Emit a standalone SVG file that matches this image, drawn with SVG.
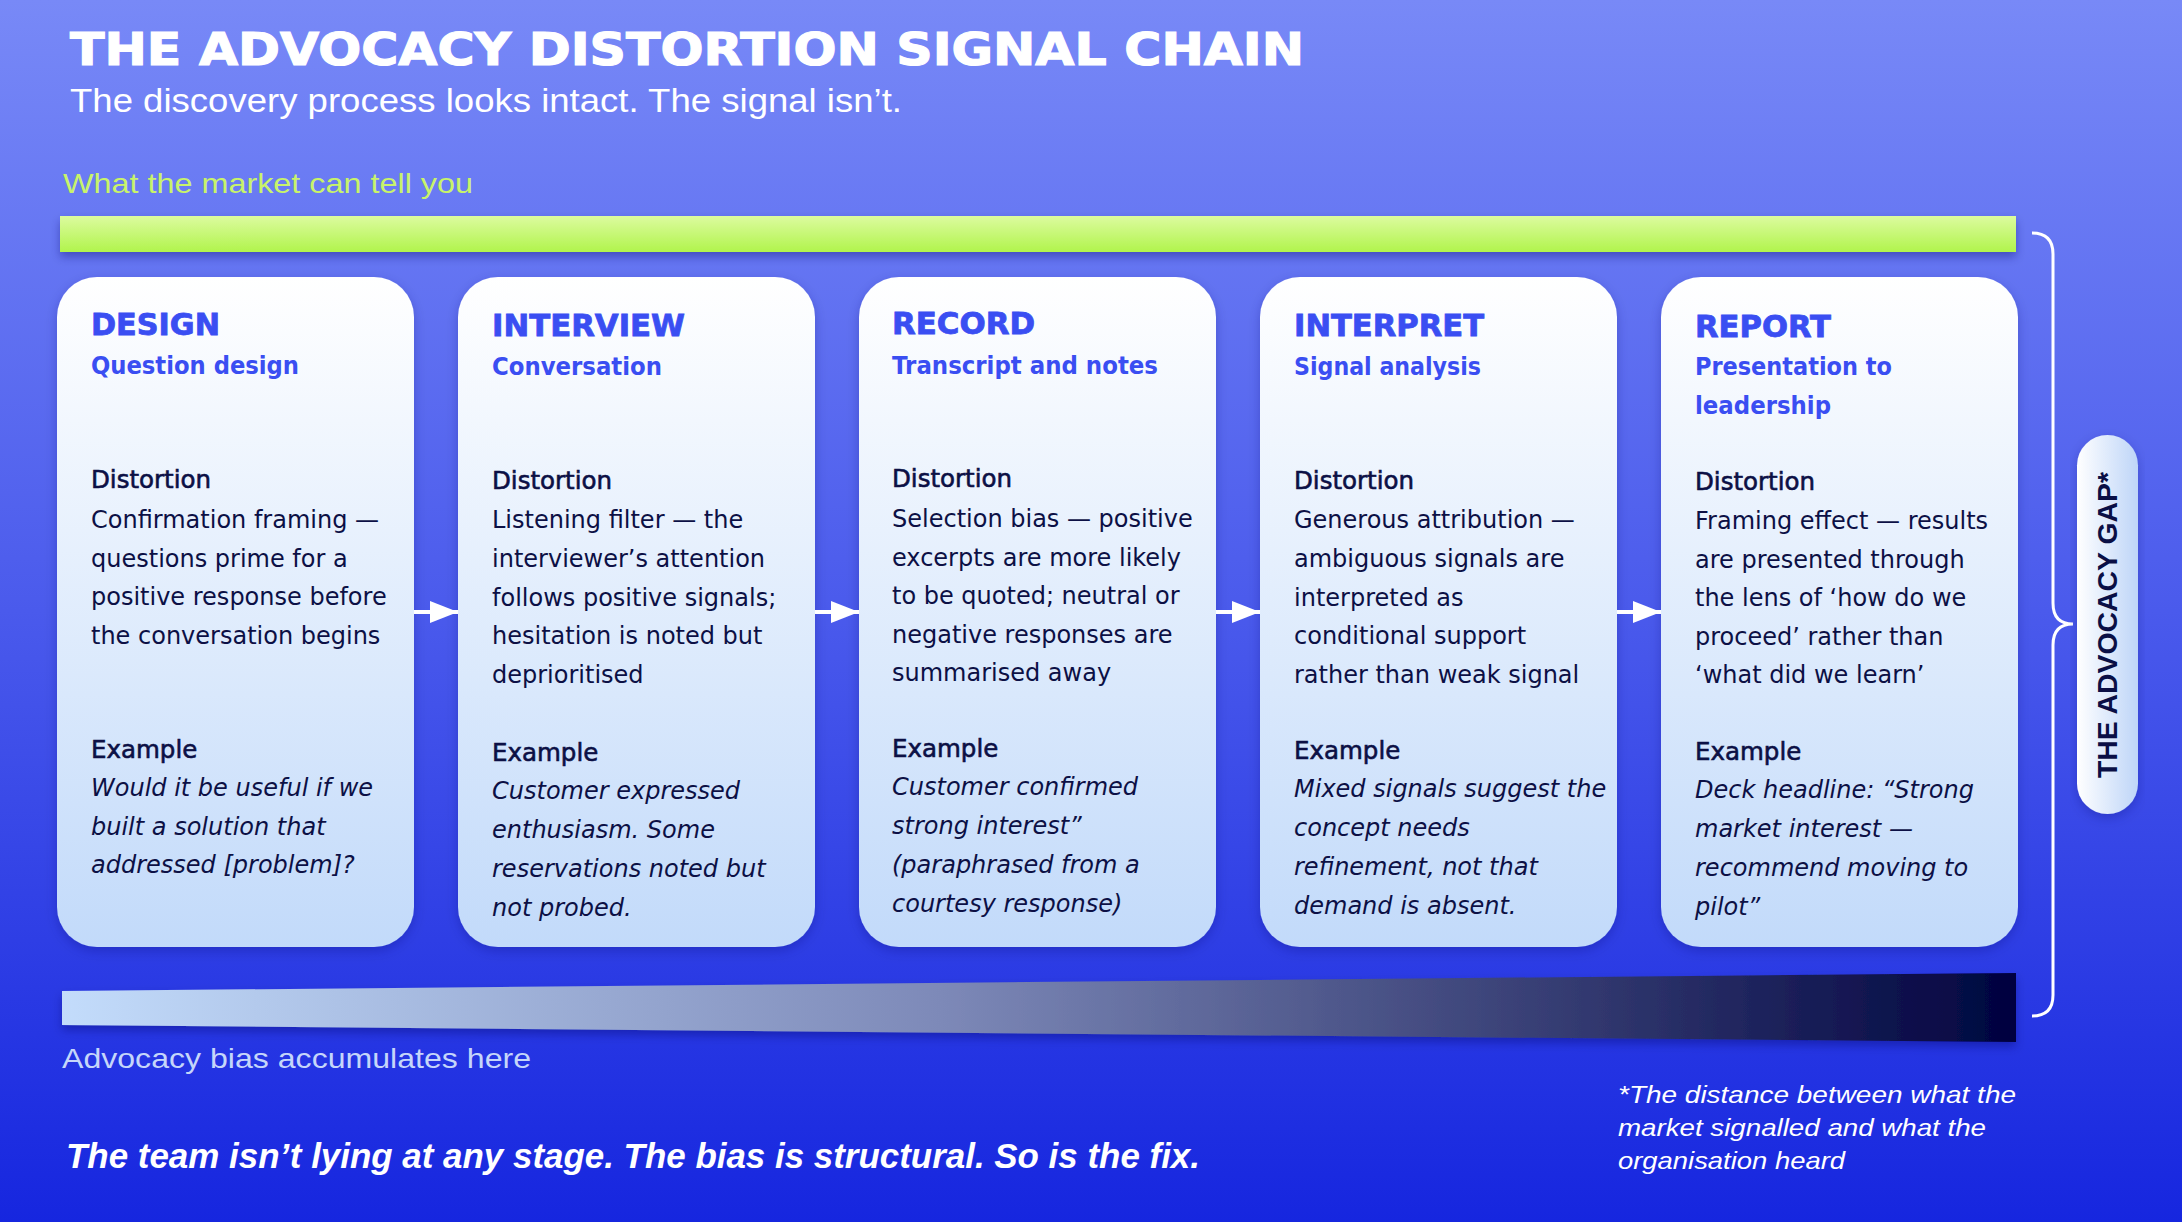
<svg xmlns="http://www.w3.org/2000/svg" width="2182" height="1222" viewBox="0 0 2182 1222">
<defs>
<linearGradient id="bg" x1="0" y1="0" x2="0" y2="1">
<stop offset="0" stop-color="#7889f7"/>
<stop offset="0.5" stop-color="#4a5aec"/>
<stop offset="1" stop-color="#1626df"/>
</linearGradient>
<linearGradient id="lime" x1="0" y1="0" x2="0" y2="1">
<stop offset="0" stop-color="#dcfb9f"/>
<stop offset="1" stop-color="#b1f44c"/>
</linearGradient>
<linearGradient id="card" x1="0" y1="0" x2="0" y2="1">
<stop offset="0" stop-color="#ffffff"/>
<stop offset="1" stop-color="#c2dafa"/>
</linearGradient>
<linearGradient id="pill" x1="0" y1="0" x2="1" y2="0">
<stop offset="0" stop-color="#ffffff"/>
<stop offset="1" stop-color="#bed5f8"/>
</linearGradient>
<linearGradient id="bias" x1="62" y1="0" x2="2016" y2="0" gradientUnits="userSpaceOnUse">
<stop offset="0" stop-color="#c3dcfb"/>
<stop offset="0.45" stop-color="#7d89b8"/>
<stop offset="1" stop-color="#00033f"/>
</linearGradient>
<filter id="shadow" x="-10%" y="-20%" width="120%" height="160%">
<feDropShadow dx="0" dy="5" stdDeviation="5" flood-color="#0a1060" flood-opacity="0.35"/>
</filter>
<filter id="cshadow" x="-10%" y="-10%" width="120%" height="120%">
<feDropShadow dx="0" dy="4" stdDeviation="6" flood-color="#0a1060" flood-opacity="0.25"/>
</filter>
<marker id="arrow" markerUnits="userSpaceOnUse" markerWidth="28" markerHeight="22" refX="28" refY="11" orient="auto">
<path d="M0,0 L28,11 L0,22 z" fill="#ffffff"/>
</marker>
<style>
.cardbox{fill:url(#card);filter:url(#cshadow);}
.stage{font-family:"DejaVu Sans",sans-serif;font-weight:bold;font-size:30px;fill:#3a4ef2;stroke:#3a4ef2;stroke-width:0.8px;}
.sub{font-family:"DejaVu Sans",sans-serif;font-weight:bold;font-size:25px;fill:#3a4ef2;}
.lbl{font-family:"DejaVu Sans",sans-serif;font-size:24.5px;fill:#0c1045;stroke:#0c1045;stroke-width:0.6px;}
.body{font-family:"DejaVu Sans",sans-serif;font-size:24px;fill:#0c1045;}
.ex{font-family:"DejaVu Sans",sans-serif;font-style:italic;font-size:24px;fill:#0c1045;}
.conn{stroke:#ffffff;stroke-width:4;fill:none;marker-end:url(#arrow);}
</style>
</defs>
<rect x="0" y="0" width="2182" height="1222" fill="url(#bg)"/>

<g id="header">
<text x="70" y="65" font-family="DejaVu Sans, sans-serif" font-weight="bold" font-size="45" fill="#ffffff" stroke="#ffffff" stroke-width="1.2" textLength="1234" lengthAdjust="spacingAndGlyphs">THE ADVOCACY DISTORTION SIGNAL CHAIN</text>
<text x="70" y="112" font-family="Liberation Sans, sans-serif" font-size="34" fill="#ffffff" textLength="832" lengthAdjust="spacingAndGlyphs">The discovery process looks intact. The signal isn’t.</text>
</g>

<g id="market-signal">
<text x="63" y="193" font-family="Liberation Sans, sans-serif" font-size="28" fill="#c8f36a" textLength="410" lengthAdjust="spacingAndGlyphs">What the market can tell you</text>
<rect x="60" y="216" width="1956" height="36" fill="url(#lime)" filter="url(#shadow)"/>
</g>

<g id="stage-design">
<rect class="cardbox" x="57" y="277" width="357" height="670" rx="40"/>
<text class="stage" x="91" y="335" textLength="129" lengthAdjust="spacingAndGlyphs">DESIGN</text>
<text class="sub" x="91" y="374" textLength="208" lengthAdjust="spacingAndGlyphs">Question design</text>
<text class="lbl" x="91" y="488">Distortion</text>
<text class="body" x="91" y="528">Confirmation framing —</text>
<text class="body" x="91" y="566.5">questions prime for a</text>
<text class="body" x="91" y="605">positive response before</text>
<text class="body" x="91" y="643.5">the conversation begins</text>
<text class="lbl" x="91" y="758">Example</text>
<text class="ex" x="91" y="796">Would it be useful if we</text>
<text class="ex" x="91" y="834.5">built a solution that</text>
<text class="ex" x="91" y="873">addressed [problem]?</text>
</g>

<g id="stage-interview">
<rect class="cardbox" x="458" y="277" width="357" height="670" rx="40"/>
<text class="stage" x="492" y="336" textLength="193" lengthAdjust="spacingAndGlyphs">INTERVIEW</text>
<text class="sub" x="492" y="375" textLength="170" lengthAdjust="spacingAndGlyphs">Conversation</text>
<text class="lbl" x="492" y="488.5">Distortion</text>
<text class="body" x="492" y="528">Listening filter — the</text>
<text class="body" x="492" y="567">interviewer’s attention</text>
<text class="body" x="492" y="605.5">follows positive signals;</text>
<text class="body" x="492" y="644">hesitation is noted but</text>
<text class="body" x="492" y="682.5">deprioritised</text>
<text class="lbl" x="492" y="761">Example</text>
<text class="ex" x="492" y="799">Customer expressed</text>
<text class="ex" x="492" y="838">enthusiasm. Some</text>
<text class="ex" x="492" y="877">reservations noted but</text>
<text class="ex" x="492" y="916">not probed.</text>
</g>

<g id="stage-record">
<rect class="cardbox" x="859" y="277" width="357" height="670" rx="40"/>
<text class="stage" x="892" y="334" textLength="143" lengthAdjust="spacingAndGlyphs">RECORD</text>
<text class="sub" x="892" y="374" textLength="266" lengthAdjust="spacingAndGlyphs">Transcript and notes</text>
<text class="lbl" x="892" y="487">Distortion</text>
<text class="body" x="892" y="526.5">Selection bias — positive</text>
<text class="body" x="892" y="565.5">excerpts are more likely</text>
<text class="body" x="892" y="604">to be quoted; neutral or</text>
<text class="body" x="892" y="642.5">negative responses are</text>
<text class="body" x="892" y="681">summarised away</text>
<text class="lbl" x="892" y="756.5">Example</text>
<text class="ex" x="892" y="795">Customer confirmed</text>
<text class="ex" x="892" y="834">strong interest”</text>
<text class="ex" x="892" y="873">(paraphrased from a</text>
<text class="ex" x="892" y="912">courtesy response)</text>
</g>

<g id="stage-interpret">
<rect class="cardbox" x="1260" y="277" width="357" height="670" rx="40"/>
<text class="stage" x="1294" y="336" textLength="190" lengthAdjust="spacingAndGlyphs">INTERPRET</text>
<text class="sub" x="1294" y="375" textLength="187" lengthAdjust="spacingAndGlyphs">Signal analysis</text>
<text class="lbl" x="1294" y="489">Distortion</text>
<text class="body" x="1294" y="528">Generous attribution —</text>
<text class="body" x="1294" y="567">ambiguous signals are</text>
<text class="body" x="1294" y="605.5">interpreted as</text>
<text class="body" x="1294" y="644">conditional support</text>
<text class="body" x="1294" y="682.5">rather than weak signal</text>
<text class="lbl" x="1294" y="759">Example</text>
<text class="ex" x="1294" y="797">Mixed signals suggest the</text>
<text class="ex" x="1294" y="836">concept needs</text>
<text class="ex" x="1294" y="875">refinement, not that</text>
<text class="ex" x="1294" y="914">demand is absent.</text>
</g>

<g id="stage-report">
<rect class="cardbox" x="1661" y="277" width="357" height="670" rx="40"/>
<text class="stage" x="1695" y="337" textLength="136" lengthAdjust="spacingAndGlyphs">REPORT</text>
<text class="sub" x="1695" y="375" textLength="197" lengthAdjust="spacingAndGlyphs">Presentation to</text>
<text class="sub" x="1695" y="414" textLength="136" lengthAdjust="spacingAndGlyphs">leadership</text>
<text class="lbl" x="1695" y="490">Distortion</text>
<text class="body" x="1695" y="529">Framing effect — results</text>
<text class="body" x="1695" y="567.5">are presented through</text>
<text class="body" x="1695" y="606">the lens of ‘how do we</text>
<text class="body" x="1695" y="644.5">proceed’ rather than</text>
<text class="body" x="1695" y="683">‘what did we learn’</text>
<text class="lbl" x="1695" y="760">Example</text>
<text class="ex" x="1695" y="798">Deck headline: “Strong</text>
<text class="ex" x="1695" y="837">market interest —</text>
<text class="ex" x="1695" y="876">recommend moving to</text>
<text class="ex" x="1695" y="915">pilot”</text>
</g>

<g id="connectors">
<line class="conn" x1="414" y1="612" x2="458" y2="612"/>
<line class="conn" x1="815" y1="612" x2="859" y2="612"/>
<line class="conn" x1="1216" y1="612" x2="1260" y2="612"/>
<line class="conn" x1="1617" y1="612" x2="1661" y2="612"/>
</g>

<g id="advocacy-bias">
<polygon points="62,991 2016,973 2016,1042 62,1025" fill="url(#bias)" filter="url(#shadow)"/>
<text x="62" y="1068" font-family="Liberation Sans, sans-serif" font-size="28" fill="#c5d6fa" textLength="469" lengthAdjust="spacingAndGlyphs">Advocacy bias accumulates here</text>
</g>

<g id="advocacy-gap">
<path d="M2032,233 Q2053,233 2053,254 L2053,603 Q2053,624 2073,624 Q2053,624 2053,645 L2053,995 Q2053,1016 2032,1016" fill="none" stroke="#ffffff" stroke-width="3"/>
<rect x="2077" y="435" width="61" height="379" rx="30.5" fill="url(#pill)" filter="url(#cshadow)"/>
<text x="0" y="0" transform="translate(2117,778) rotate(-90)" font-family="Liberation Sans, sans-serif" font-weight="bold" font-size="28" fill="#0a0f45" textLength="306" lengthAdjust="spacingAndGlyphs">THE ADVOCACY GAP*</text>
</g>

<g id="footnote">
<text x="1618" y="1103" font-family="Liberation Sans, sans-serif" font-style="italic" font-size="24" fill="#ffffff" textLength="398" lengthAdjust="spacingAndGlyphs">*The distance between what the</text>
<text x="1618" y="1136" font-family="Liberation Sans, sans-serif" font-style="italic" font-size="24" fill="#ffffff" textLength="368" lengthAdjust="spacingAndGlyphs">market signalled and what the</text>
<text x="1618" y="1169" font-family="Liberation Sans, sans-serif" font-style="italic" font-size="24" fill="#ffffff" textLength="227" lengthAdjust="spacingAndGlyphs">organisation heard</text>
</g>

<g id="tagline">
<text x="66" y="1168" font-family="Liberation Sans, sans-serif" font-style="italic" font-weight="bold" font-size="35" fill="#ffffff" textLength="1134" lengthAdjust="spacingAndGlyphs">The team isn’t lying at any stage. The bias is structural. So is the fix.</text>
</g>
</svg>
